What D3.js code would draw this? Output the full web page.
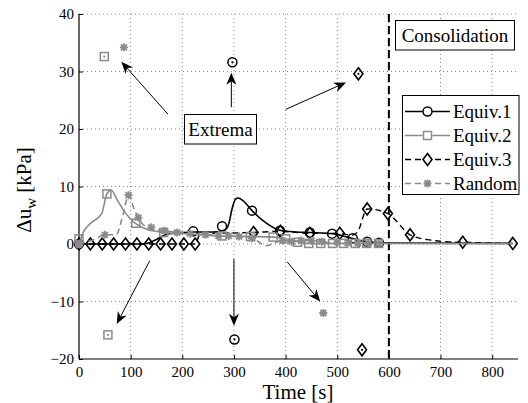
<!DOCTYPE html>
<html><head><meta charset="utf-8">
<script src="https://cdn.jsdelivr.net/npm/d3@7"></script>
<style>body{margin:0;background:#fff}svg{display:block}</style>
</head><body><svg id="c" width="528" height="403" font-family="Liberation Serif"></svg>
<script>
const xTicks = [0,100,200,300,400,500,600,700,800];
const yTicks = [-20,-10,0,10,20,30,40];
const seriesNames = ["Equiv.1","Equiv.2","Equiv.3","Random"];

const eq1Line = [[0,0],[100,0],[130,0.1],[150,0.8],[170,1.7],[200,2.0],[221,2.1],[260,2.1],[282,2.4],[290,3.5],[296,6.0],[303,7.8],[308,8.0],[318,7.5],[335,5.8],[360,3.8],[389,2.4],[420,2.1],[447,2.0],[490,1.8],[520,1.2],[550,0.5],[581,0.2],[600,0.15],[840,0.1]];
const eq1Marks = [[0,0],[221,2.2],[277,3.1],[335,5.8],[389,2.3],[447,2.0],[490,1.8],[530,1.0],[558,0.4],[581,0.2]];

const eq2Line = [[0,0],[8,2],[21,3.5],[44,5.3],[54,8.7],[62,9.4],[75,7.5],[89,5.5],[109,3.6],[130,2.6],[164,2.0],[220,1.7],[277,1.4],[330,1.3],[376,1.2],[400,0.9],[423,0.4],[445,0.1],[600,0.1],[840,0.1]];
const eq2Marks = [[0,0.9],[54,8.7],[110,3.6],[164,2.0],[277,1.4],[332,1.3],[376,1.2],[400,0.9],[423,0.3],[445,0.1],[468,0.1],[491,0.1],[512,0.1],[535,0.1],[557,0.1],[580,0.1]];

const eq3Line = [[0,0],[225,0],[235,1.8],[338,2.0],[390,2.2],[447,1.85],[505,1.85],[528,1.5],[540,2.2],[558,6.1],[598,5.3],[641,1.6],[675,0.75],[711,0.4],[743,0.3],[840,0.1]];
const eq3Marks = [[0,0],[22,0],[45,0],[67,0],[90,0],[112,0],[135,0],[158,0],[180,0],[203,0],[225,0],[338,2.0],[390,2.2],[447,1.85],[505,1.85],[558,6.1],[598,5.3],[641,1.6],[743,0.3],[840,0.1]];

const rndLine = [[0,0],[30,0.8],[50,1.6],[72,1.6],[85,5.0],[96,8.5],[105,6.5],[115,4.5],[130,3.0],[165,2.3],[200,2.0],[250,1.6],[280,1.4],[310,1.3],[340,0.8],[362,-0.3],[394,0.6],[420,0.5],[450,0.6],[480,0.3],[520,0.2],[580,0.1]];
const rndMarks = [[0,0],[50,1.6],[96,8.5],[115,4.6],[140,2.9],[165,2.3],[190,2.0],[215,1.8],[245,1.6],[270,1.4],[290,1.4],[310,1.3],[335,1.0],[394,0.6],[412,0.4],[430,0.6],[450,0.6],[470,0.4],[500,0.3],[520,0.2],[540,0.1],[560,0.1],[580,0.1]];

const extEq1 = [[297,31.6],[301,-16.6]];
const extEq2 = [[49,32.6],[56,-15.8]];
const extEq3 = [[541,29.6],[548,-18.4]];
const extRnd = [[87,34.2],[473,-12.0]];

const arrows = [[172,22.6,82,31.7],[295,23.8,295,29.8],[400,23.4,517,28.1],[137,-2.9,73,-13.9],[300,-2.6,300,-14.2],[403,-3.1,467,-10.0]];
const consolidationT = 600;

const FONT = "'Liberation Serif', 'Times New Roman', serif";
const svg = d3.select("#c");
const x = d3.scaleLinear().domain([0,850]).range([79,518]);
const y = d3.scaleLinear().domain([-20,40]).range([359,14]);
const GRAY = "#8a8a8a";

// grid
const g = svg.append("g");
g.selectAll(".gx").data(xTicks.filter(d=>d>0)).enter().append("line")
 .attr("x1",d=>x(d)).attr("x2",d=>x(d)).attr("y1",y(-20)).attr("y2",y(40))
 .attr("stroke","#666").attr("stroke-width",0.8).attr("stroke-dasharray","1,3");
g.selectAll(".gy").data(yTicks.filter(d=>d>-20)).enter().append("line")
 .attr("x1",x(0)).attr("x2",x(850)).attr("y1",d=>y(d)).attr("y2",d=>y(d))
 .attr("stroke","#666").attr("stroke-width",0.8).attr("stroke-dasharray","1,3");

// axes
const xa = svg.append("g").attr("transform",`translate(0,${y(-20)})`)
 .call(d3.axisBottom(x).tickValues(xTicks).tickSize(-4).tickPadding(7).tickFormat(d3.format("d")));
const ya = svg.append("g").attr("transform",`translate(${x(0)},0)`)
 .call(d3.axisLeft(y).tickValues(yTicks).tickSize(-4).tickPadding(5).tickFormat(d=>d<0?"\u2212"+(-d):d));
[xa,ya].forEach(a=>{a.attr("font-family",FONT).attr("font-size",15);
 a.select(".domain").attr("stroke","#000").attr("stroke-width",1.2);
 a.selectAll(".tick line").attr("stroke","#000");
 a.selectAll("text").attr("fill","#000").style("font-family",FONT).style("font-size","15px");});
xa.select(".domain").attr("d",`M${x(0)},0H${x(850)}`);
ya.select(".domain").attr("d",`M0,${y(-20)}V${y(40)}`);

svg.append("text").attr("x",298).attr("y",399).attr("text-anchor","middle")
 .style("font-family",FONT).style("font-size","21px").text("Time [s]");
const yl = svg.append("text").attr("transform",`translate(31,190) rotate(-90)`)
 .attr("text-anchor","middle").style("font-family",FONT).style("font-size","21px");
yl.append("tspan").text("\u0394u");
yl.append("tspan").attr("baseline-shift","-35%").style("font-size","15px").text("w");
yl.append("tspan").text(" [kPa]");

// consolidation line
svg.append("line").attr("x1",x(consolidationT)).attr("x2",x(consolidationT)).attr("y1",y(40)).attr("y2",y(-20))
 .attr("stroke","#000").attr("stroke-width",2).attr("stroke-dasharray","8,4");

const line = d3.line().x(d=>x(d[0])).y(d=>y(d[1])).curve(d3.curveMonotoneX);

function marker(sel, type, color){
  if(type==="o") sel.append("circle").attr("r",4.5).attr("fill","none").attr("stroke",color).attr("stroke-width",1.5);
  else if(type==="s") sel.append("rect").attr("x",-4).attr("y",-4).attr("width",8).attr("height",8).attr("fill","none").attr("stroke",color).attr("stroke-width",1.5);
  else if(type==="d") sel.append("path").attr("d","M0,-6L4.5,0L0,6L-4.5,0Z").attr("fill","none").attr("stroke",color).attr("stroke-width",1.6);
  else if(type==="*") sel.append("path").attr("d","M-4,0H4M0,-4V4M-3,-3L3,3M-3,3L3,-3").attr("stroke",color).attr("stroke-width",1.8);
}
function drawSeries(lineData, marks, color, dash, type, w){
  svg.append("path").datum(lineData).attr("d",line).attr("fill","none").attr("stroke",color)
   .attr("stroke-width",w).attr("stroke-dasharray",dash||null);
  svg.selectAll(null).data(marks).enter().append("g")
   .attr("transform",d=>`translate(${x(d[0])},${y(d[1])})`).each(function(){marker(d3.select(this),type,color);});
}
drawSeries(eq3Line, eq3Marks, "#000", "6,4", "d", 1.4);
drawSeries(eq1Line, eq1Marks, "#000", null, "o", 1.6);
drawSeries(eq2Line, eq2Marks, GRAY, null, "s", 1.6);
drawSeries(rndLine, rndMarks, GRAY, "6,4", "*", 1.6);

svg.append("circle").attr("cx",x(0)).attr("cy",y(0)).attr("r",4.5).attr("fill",GRAY);

// extrema
function ext(data,type,color){
  svg.selectAll(null).data(data).enter().append("g")
   .attr("transform",d=>`translate(${x(d[0])},${y(d[1])})`).each(function(){
     const s=d3.select(this); marker(s,type,color);
     if(type!=="*") s.append("circle").attr("r",1.1).attr("fill",color);
   });
}
ext(extEq1,"o","#000"); ext(extEq2,"s",GRAY); ext(extEq3,"d","#000"); ext(extRnd,"*",GRAY);

// arrows
arrows.forEach(a=>{
  const x1=x(a[0]),y1=y(a[1]),x2=x(a[2]),y2=y(a[3]);
  const ang=Math.atan2(y2-y1,x2-x1), L=12, W=5, back=3.5;
  const bx=x2-L*Math.cos(ang), by=y2-L*Math.sin(ang);
  const nx=-Math.sin(ang), ny=Math.cos(ang);
  const mx=x2-(L-back)*Math.cos(ang), my=y2-(L-back)*Math.sin(ang);
  svg.append("line").attr("x1",x1).attr("y1",y1).attr("x2",mx).attr("y2",my).attr("stroke","#000").attr("stroke-width",1);
  svg.append("path").attr("d",`M${x2},${y2}L${bx+nx*W},${by+ny*W}L${mx},${my}L${bx-nx*W},${by-ny*W}Z`).attr("fill","#000");
});

// text boxes
function box(x0,y0,w,h,txt,fs){
  svg.append("rect").attr("x",x0).attr("y",y0).attr("width",w).attr("height",h).attr("fill","#fff").attr("stroke","#000").attr("stroke-width",1);
  svg.append("text").attr("x",x0+w/2).attr("y",y0+h/2+fs*0.33).attr("text-anchor","middle")
   .style("font-family",FONT).style("font-size",fs+"px").text(txt);
}
box(184.5,114.5,72,29.5,"Extrema",19);
box(395.5,20.5,119,29.5,"Consolidation",19);

// legend
const lg = svg.append("g");
lg.append("rect").attr("x",402.5).attr("y",95.5).attr("width",116.5).attr("height",99).attr("fill","#fff").attr("stroke","#000");
const legItems = [["#000",null,"o"],[GRAY,null,"s"],["#000","6,4","d"],[GRAY,"6,4","*"]];
seriesNames.forEach((n,i)=>{
  const yy = 111.5 + i*24;
  lg.append("line").attr("x1",405).attr("x2",450).attr("y1",yy).attr("y2",yy).attr("stroke",legItems[i][0])
   .attr("stroke-width",1.6).attr("stroke-dasharray",legItems[i][1]||null);
  const m = lg.append("g").attr("transform",`translate(427.5,${yy})`);
  m.append("rect").attr("x",-5).attr("y",-6).attr("width",10).attr("height",12).attr("fill","#fff");
  marker(m,legItems[i][2],legItems[i][0]);
  lg.append("text").attr("x",453).attr("y",yy+6).style("font-family",FONT).style("font-size","19px").text(n);
});
</script></body></html>
